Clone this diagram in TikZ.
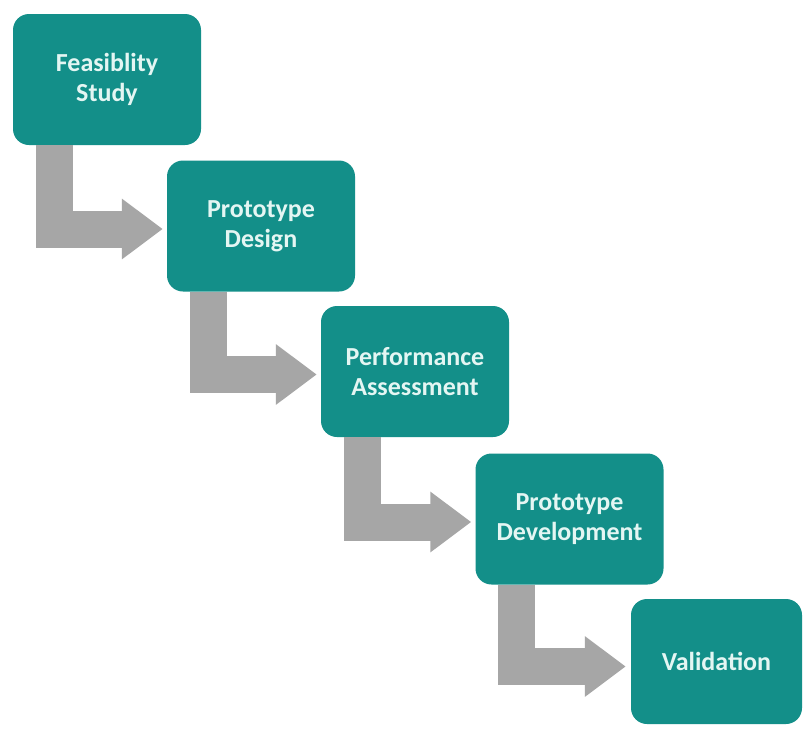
\documentclass[tikz,border=0pt]{standalone}
\usepackage{fontspec}
\setmainfont{Carlito}
\usetikzlibrary{arrows.meta}
\definecolor{teal1}{RGB}{19,143,137}
\definecolor{txtc}{RGB}{228,246,243}
\definecolor{arrgray}{RGB}{166,166,166}
\tikzset{
  stepbox/.style={draw=none, fill=teal1, rounded corners=16pt, minimum width=188pt, minimum height=131pt,
    text=txtc, font=\bfseries\fontsize{26}{30}\selectfont, align=center, inner sep=0pt},
  flowarrow/.style={draw=arrgray, line width=37pt, line join=miter,
    -{Triangle[length=41pt, width=58pt]}}
}
\begin{document}
\begin{tikzpicture}[x=1pt,y=-1pt]
\useasboundingbox (0,0) rectangle (806,729);
\fill[white] (0,0) rectangle (806,729);
\node[stepbox] (a) at (107,79.5) {Feasiblity\\Study};
\node[stepbox] (b) at (261,226) {Prototype\\Design};
\node[stepbox] (c) at (415,371.5) {Performance\\Assessment};
\node[stepbox] (d) at (569.5,519) {Prototype\\Development};
\node[stepbox, minimum width=171pt, minimum height=125pt] (e) at (716.5,661.5) {Validation};
\draw[flowarrow] ([xshift=41.5pt]a.south west) |- ([xshift=-4pt,yshift=-3pt]b.west);
\draw[flowarrow] ([xshift=41.5pt]b.south west) |- ([xshift=-4pt,yshift=-3pt]c.west);
\draw[flowarrow] ([xshift=41.5pt]c.south west) |- ([xshift=-4pt,yshift=-3pt]d.west);
\draw[flowarrow] ([xshift=41.5pt]d.south west) |- ([xshift=-5pt,yshift=-5pt]e.west);
\end{tikzpicture}
\end{document}
